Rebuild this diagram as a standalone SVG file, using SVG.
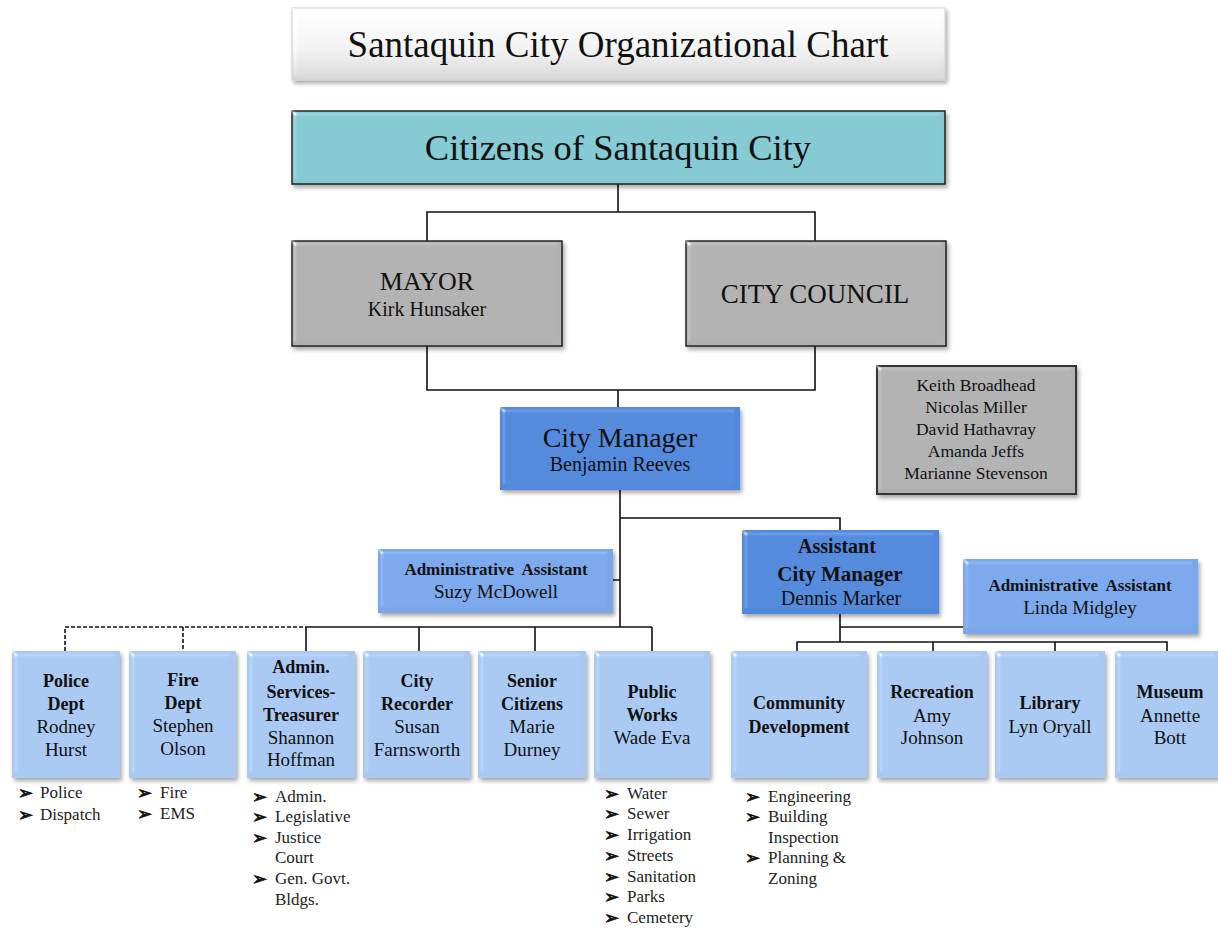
<svg xmlns="http://www.w3.org/2000/svg" width="1218" height="928" viewBox="0 0 1218 928">
<style>
text{font-family:"Liberation Serif","Times New Roman",serif;fill:#111;text-anchor:middle}
.b{font-weight:bold}
.li{text-anchor:start;font-size:17px;fill:#222}
.bu{font-family:"DejaVu Sans",sans-serif;text-anchor:start;font-size:18px;fill:#111;stroke:#111;stroke-width:0.7}
.ln{fill:none;stroke:#111;stroke-width:1.6}
.dash{fill:none;stroke:#111;stroke-width:1.6;stroke-dasharray:4 2}
.dark{fill:#4f88dc}
.mid{fill:#79a7ea}
.lt{fill:#a9c8f2}
.gray{fill:#b1b1b1;stroke:#222;stroke-width:1.5}
.low text{font-size:19px}
.low text.b{font-size:18px}
</style>
<defs>
<linearGradient id="tg" x1="0" y1="0" x2="0" y2="1">
<stop offset="0" stop-color="#ffffff"/><stop offset="0.6" stop-color="#f1f1f1"/><stop offset="1" stop-color="#d6d6d6"/>
</linearGradient>
<filter id="bev" x="-5%" y="-5%" width="112%" height="125%">
<feGaussianBlur in="SourceAlpha" stdDeviation="2.5" result="blur"/>
<feSpecularLighting in="blur" surfaceScale="3" specularConstant="0.55" specularExponent="40" lighting-color="#ffffff" result="spec">
<feDistantLight azimuth="225" elevation="40"/>
</feSpecularLighting>
<feComposite in="spec" in2="SourceAlpha" operator="in" result="specIn"/>
<feComposite in="SourceGraphic" in2="specIn" operator="arithmetic" k1="0" k2="1" k3="1" k4="0" result="lit"/>
<feOffset in="SourceAlpha" dx="2" dy="3" result="off"/>
<feGaussianBlur in="off" stdDeviation="2" result="sh"/>
<feComponentTransfer in="sh" result="sh2"><feFuncA type="linear" slope="0.35"/></feComponentTransfer>
<feMerge><feMergeNode in="sh2"/><feMergeNode in="lit"/></feMerge>
</filter>
</defs>
<rect width="1218" height="928" fill="#ffffff"/>

<g id="connectors">
<path class="ln" d="M618 184V212M427 241V212H815V241"/>
<path class="ln" d="M427 346V390H815V346M618 390V407"/>
<path class="ln" d="M620 490V627M620 518H840V530M613 580H620"/>
<path class="ln" d="M306 627H652M306 627V651M419 627V651M535 627V651M652 627V651"/>
<path class="dash" d="M65 651V627H306M183 627V651"/>
<path class="ln" d="M840 614V642M840 627H963M797 651V642H1167V651M933 642V651M1055 642V651"/>
</g>

<g id="title">
<rect x="292" y="8" width="653" height="72" fill="url(#tg)" stroke="#cfcfcf" stroke-width="1" filter="url(#bev)"/>
<text x="618" y="57" font-size="37">Santaquin City Organizational Chart</text>
</g>

<g id="citizens">
<rect x="292" y="111" width="653" height="73" fill="#83c9d1" stroke="#222" stroke-width="1.5" filter="url(#bev)"/>
<text x="618" y="160" font-size="36.5">Citizens of Santaquin City</text>
</g>

<g id="mayor">
<rect class="gray" x="292" y="241" width="270" height="105" filter="url(#bev)"/>
<text x="427" y="290" font-size="26">MAYOR</text>
<text x="427" y="316" font-size="20">Kirk Hunsaker</text>
</g>

<g id="council">
<rect class="gray" x="686" y="241" width="260" height="105" filter="url(#bev)"/>
<text x="815" y="303" font-size="27">CITY COUNCIL</text>
</g>

<g id="council-members">
<rect x="877" y="366" width="199" height="128" fill="#b1b1b1" stroke="#333" stroke-width="2" filter="url(#bev)"/>
<g font-size="17.5">
<text x="976" y="391">Keith Broadhead</text>
<text x="976" y="413">Nicolas Miller</text>
<text x="976" y="435">David Hathavray</text>
<text x="976" y="457">Amanda Jeffs</text>
<text x="976" y="479">Marianne Stevenson</text>
</g>
</g>

<g id="city-manager">
<rect class="dark" x="500" y="407" width="240" height="83" filter="url(#bev)"/>
<text x="620" y="447" font-size="28">City Manager</text>
<text x="620" y="471" font-size="20">Benjamin Reeves</text>
</g>

<g id="admin-assistant-suzy">
<rect class="mid" x="378" y="549" width="235" height="64" filter="url(#bev)"/>
<text class="b" x="496" y="575" font-size="17">Administrative&#160; Assistant</text>
<text x="496" y="598" font-size="19">Suzy McDowell</text>
</g>

<g id="assistant-city-manager">
<rect class="dark" x="742" y="530" width="197" height="84" filter="url(#bev)"/>
<text class="b" x="837" y="553" font-size="20">Assistant</text>
<text class="b" x="840" y="581" font-size="21">City Manager</text>
<text x="841" y="605" font-size="20">Dennis Marker</text>
</g>

<g id="admin-assistant-linda">
<rect class="mid" x="963" y="559" width="235" height="75" filter="url(#bev)"/>
<text class="b" x="1080" y="591" font-size="17">Administrative&#160; Assistant</text>
<text x="1080" y="614" font-size="19">Linda Midgley</text>
</g>

<g class="low">
<g id="police">
<rect class="lt" x="12" y="651" width="108" height="127" filter="url(#bev)"/>
<text class="b" x="66" y="687">Police</text>
<text class="b" x="66" y="710">Dept</text>
<text x="66" y="733">Rodney</text>
<text x="66" y="756">Hurst</text>
</g>
<g id="fire">
<rect class="lt" x="129" y="651" width="107" height="127" filter="url(#bev)"/>
<text class="b" x="183" y="686">Fire</text>
<text class="b" x="183" y="709">Dept</text>
<text x="183" y="732">Stephen</text>
<text x="183" y="755">Olson</text>
</g>
<g id="admin-services">
<rect class="lt" x="247" y="651" width="108" height="127" filter="url(#bev)"/>
<text class="b" x="301" y="673">Admin.</text>
<text class="b" x="301" y="698">Services-</text>
<text class="b" x="301" y="721">Treasurer</text>
<text x="301" y="744">Shannon</text>
<text x="301" y="766">Hoffman</text>
</g>
<g id="city-recorder">
<rect class="lt" x="363" y="651" width="107" height="127" filter="url(#bev)"/>
<text class="b" x="417" y="687">City</text>
<text class="b" x="417" y="710">Recorder</text>
<text x="417" y="733">Susan</text>
<text x="417" y="756">Farnsworth</text>
</g>
<g id="senior-citizens">
<rect class="lt" x="478" y="651" width="108" height="127" filter="url(#bev)"/>
<text class="b" x="532" y="687">Senior</text>
<text class="b" x="532" y="710">Citizens</text>
<text x="532" y="733">Marie</text>
<text x="532" y="756">Durney</text>
</g>
<g id="public-works">
<rect class="lt" x="594" y="651" width="116" height="127" filter="url(#bev)"/>
<text class="b" x="652" y="698">Public</text>
<text class="b" x="652" y="721">Works</text>
<text x="652" y="744">Wade Eva</text>
</g>
<g id="community-development">
<rect class="lt" x="731" y="651" width="136" height="127" filter="url(#bev)"/>
<text class="b" x="799" y="709">Community</text>
<text class="b" x="799" y="733">Development</text>
</g>
<g id="recreation">
<rect class="lt" x="877" y="651" width="110" height="127" filter="url(#bev)"/>
<text class="b" x="932" y="698">Recreation</text>
<text x="932" y="722">Amy</text>
<text x="932" y="744">Johnson</text>
</g>
<g id="library">
<rect class="lt" x="995" y="651" width="110" height="127" filter="url(#bev)"/>
<text class="b" x="1050" y="709">Library</text>
<text x="1050" y="733">Lyn Oryall</text>
</g>
<g id="museum">
<rect class="lt" x="1115" y="651" width="106" height="127" filter="url(#bev)"/>
<text class="b" x="1170" y="698">Museum</text>
<text x="1170" y="722">Annette</text>
<text x="1170" y="744">Bott</text>
</g>
</g>

<g id="police-list">
<text class="bu" x="18" y="799">➢</text><text class="li" x="40" y="798">Police</text>
<text class="bu" x="18" y="821">➢</text><text class="li" x="40" y="820">Dispatch</text>
</g>
<g id="fire-list">
<text class="bu" x="137" y="799">➢</text><text class="li" x="160" y="798">Fire</text>
<text class="bu" x="137" y="820">➢</text><text class="li" x="160" y="819">EMS</text>
</g>
<g id="admin-list">
<text class="bu" x="252" y="803">➢</text><text class="li" x="275" y="802">Admin.</text>
<text class="bu" x="252" y="823">➢</text><text class="li" x="275" y="822">Legislative</text>
<text class="bu" x="252" y="844">➢</text><text class="li" x="275" y="843">Justice</text>
<text class="li" x="275" y="863">Court</text>
<text class="bu" x="252" y="885">➢</text><text class="li" x="275" y="884">Gen. Govt.</text>
<text class="li" x="275" y="905">Bldgs.</text>
</g>
<g id="public-works-list">
<text class="bu" x="604" y="800">➢</text><text class="li" x="627" y="799">Water</text>
<text class="bu" x="604" y="820">➢</text><text class="li" x="627" y="819">Sewer</text>
<text class="bu" x="604" y="841">➢</text><text class="li" x="627" y="840">Irrigation</text>
<text class="bu" x="604" y="862">➢</text><text class="li" x="627" y="861">Streets</text>
<text class="bu" x="604" y="883">➢</text><text class="li" x="627" y="882">Sanitation</text>
<text class="bu" x="604" y="903">➢</text><text class="li" x="627" y="902">Parks</text>
<text class="bu" x="604" y="924">➢</text><text class="li" x="627" y="923">Cemetery</text>
</g>
<g id="community-list">
<text class="bu" x="745" y="803">➢</text><text class="li" x="768" y="802">Engineering</text>
<text class="bu" x="745" y="823">➢</text><text class="li" x="768" y="822">Building</text>
<text class="li" x="768" y="843">Inspection</text>
<text class="bu" x="745" y="864">➢</text><text class="li" x="768" y="863">Planning &amp;</text>
<text class="li" x="768" y="884">Zoning</text>
</g>
</svg>
